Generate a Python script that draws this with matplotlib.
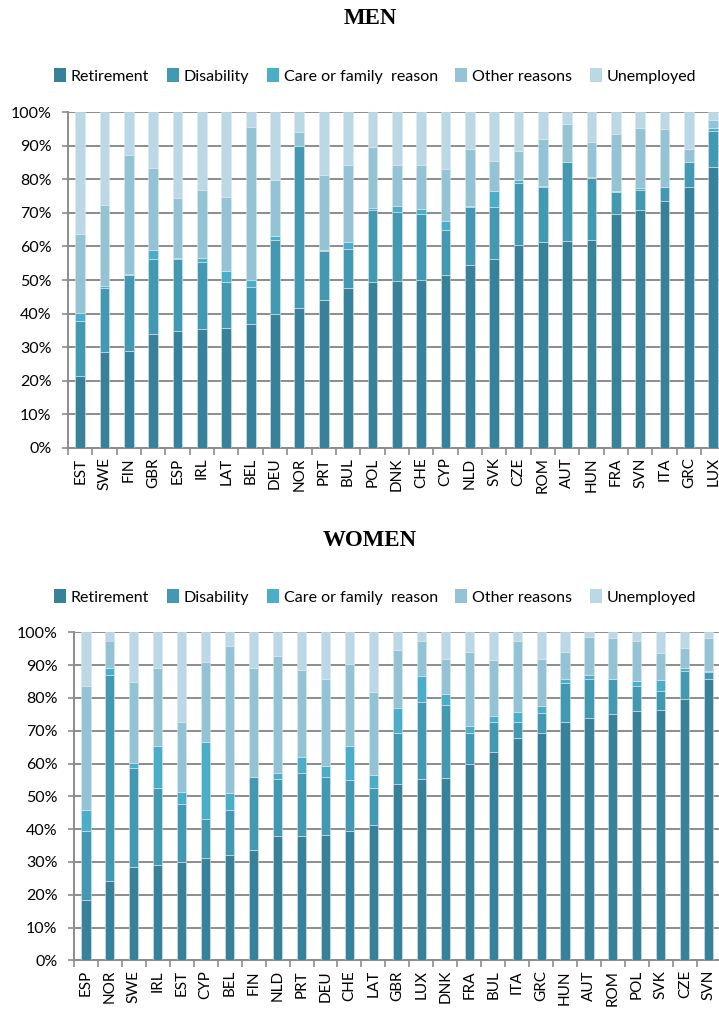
import matplotlib
matplotlib.use("Agg")
import matplotlib.pyplot as plt
import numpy as np
from matplotlib.ticker import PercentFormatter
from matplotlib.patches import Patch

series = ["Retirement", "Disability", "Care or family  reason", "Other reasons", "Unemployed"]
colors = ["#37829A", "#4399B2", "#4BADC7", "#93C3D5", "#BAD8E5"]

# MEN: cumulative tops (%) of the first four segments
men_countries = ["EST", "SWE", "FIN", "GBR", "ESP", "IRL", "LAT", "BEL", "DEU", "NOR", "PRT", "BUL", "POL", "DNK",
                 "CHE", "CYP", "NLD", "SVK", "CZE", "ROM", "AUT", "HUN", "FRA", "SVN", "ITA", "GRC", "LUX"]
men_retirement = [21.5, 28.4, 28.7, 33.8, 34.9, 35.3, 35.8, 37.0, 39.8, 41.8, 43.9, 47.5, 49.3, 49.6,
                  50.0, 51.6, 54.6, 56.2, 60.3, 61.2, 61.5, 61.8, 69.7, 71.0, 73.5, 77.8, 83.6]
men_disability_top = [37.9, 47.5, 51.5, 56.2, 56.2, 55.5, 49.3, 48.0, 61.8, 90.0, 58.6, 59.3, 71.0, 70.2,
                      69.7, 64.8, 71.7, 71.7, 79.0, 77.8, 85.1, 80.5, 76.1, 76.9, 77.7, 85.1, 94.5]
men_care_top = [40.2, 48.3, 51.7, 58.9, 56.7, 56.6, 52.8, 50.0, 63.1, 90.1, 59.0, 61.4, 71.6, 72.1,
                71.3, 67.6, 72.2, 76.5, 79.8, 78.0, 85.3, 80.6, 76.5, 77.4, 77.8, 85.2, 95.4]
men_other_top = [63.8, 72.5, 87.2, 83.5, 74.3, 76.9, 74.6, 95.6, 79.9, 94.2, 81.3, 84.3, 89.6, 84.4,
                 84.4, 83.2, 89.1, 85.6, 88.6, 92.1, 96.6, 91.0, 93.6, 95.3, 94.9, 89.2, 97.8]

# WOMEN: cumulative tops (%)
women_countries = ["ESP", "NOR", "SWE", "IRL", "EST", "CYP", "BEL", "FIN", "NLD", "PRT", "DEU", "CHE", "LAT", "GBR",
                   "LUX", "DNK", "FRA", "BUL", "ITA", "GRC", "HUN", "AUT", "ROM", "POL", "SVK", "CZE", "SVN"]
women_retirement = [18.3, 24.1, 28.3, 29.0, 30.1, 31.1, 32.0, 33.5, 37.8, 37.8, 38.1, 39.3, 41.1, 53.7,
                    55.2, 55.7, 59.8, 63.4, 67.9, 69.4, 72.6, 73.8, 75.0, 76.1, 76.4, 79.6, 85.7]
women_disability_top = [39.3, 86.9, 58.5, 52.4, 47.6, 43.0, 45.9, 55.8, 55.2, 57.0, 56.0, 55.0, 52.4, 69.2,
                        78.9, 77.7, 69.2, 72.6, 72.6, 75.3, 84.5, 85.9, 85.7, 83.5, 82.0, 88.2, 88.0]
women_care_top = [45.8, 89.1, 60.2, 65.4, 51.2, 66.7, 51.1, 56.0, 57.2, 62.1, 59.3, 65.4, 56.4, 77.0,
                  86.8, 81.3, 71.5, 74.5, 75.6, 77.5, 85.8, 87.0, 85.9, 85.2, 85.6, 89.2, 88.2]
women_other_top = [83.7, 97.5, 84.7, 89.2, 72.8, 91.0, 95.7, 89.2, 92.7, 88.5, 85.9, 90.4, 81.8, 94.7,
                   97.2, 92.0, 94.1, 91.7, 97.2, 92.0, 94.1, 98.7, 98.4, 97.2, 93.8, 95.3, 98.4]

plt.rcParams['font.family'] = ['Lato', 'DejaVu Sans']

W, H = 719, 1009
fig = plt.figure(figsize=(W / 100, H / 100), dpi=100)

grid_c = "#8C8C8C"


def draw(ax, countries, tops, width):
    x = np.arange(len(countries))
    bounds = [np.zeros(len(countries))] + [np.array(t, float) for t in tops] + [np.full(len(countries), 100.0)]
    for i in range(5):
        ax.bar(x, bounds[i + 1] - bounds[i], bottom=bounds[i], width=width, color=colors[i],
               edgecolor="#DCE9EE", linewidth=0.4, zorder=3)
    ax.set_xlim(-0.5, len(countries) - 0.5)
    ax.set_ylim(0, 100)
    ax.set_yticks(np.arange(0, 101, 10))
    ax.yaxis.set_major_formatter(PercentFormatter(decimals=0))
    ax.set_xticks(x)
    ax.set_xticklabels(countries, rotation=90, fontsize=11)
    ax.set_xticks(np.arange(-0.5, len(countries), 1), minor=True)
    ax.tick_params(axis='x', which='major', length=0, pad=7)
    ax.tick_params(axis='x', which='minor', length=5, color=grid_c, width=1.2)
    ax.tick_params(axis='y', length=4, color=grid_c, width=1.2, labelsize=11.5, pad=8)
    ax.grid(axis='y', color=grid_c, linewidth=1.4, zorder=0)
    for s in ['top', 'right']:
        ax.spines[s].set_visible(False)
    for s in ['left', 'bottom']:
        ax.spines[s].set_color(grid_c)
        ax.spines[s].set_linewidth(1.4)


ax1 = fig.add_axes([68 / W, (H - 447.7) / H, 657.5 / W, 335.4 / H])
draw(ax1, men_countries, [men_retirement, men_disability_top, men_care_top, men_other_top], 0.4)

ax2 = fig.add_axes([74 / W, (H - 960.3) / H, 646.7 / W, 328 / H])
draw(ax2, women_countries, [women_retirement, women_disability_top, women_care_top, women_other_top], 0.38)

handles = [Patch(facecolor=c, edgecolor='none') for c in colors]
for y, ttl in [(18, "MEN"), (540, "WOMEN")]:
    fig.text(370 / W, 1 - y / H, ttl, ha='center', va='center', fontsize=16.5, fontweight='bold',
             family='Liberation Serif')
for y in [76, 597]:
    fig.legend(handles, series, loc='center', bbox_to_anchor=(375 / W, 1 - y / H), ncol=5, frameon=False,
               fontsize=11.5, handlelength=0.75, handleheight=0.9, handletextpad=0.3, columnspacing=1.1,
               borderpad=0)

fig.savefig("out.png", dpi=100)
